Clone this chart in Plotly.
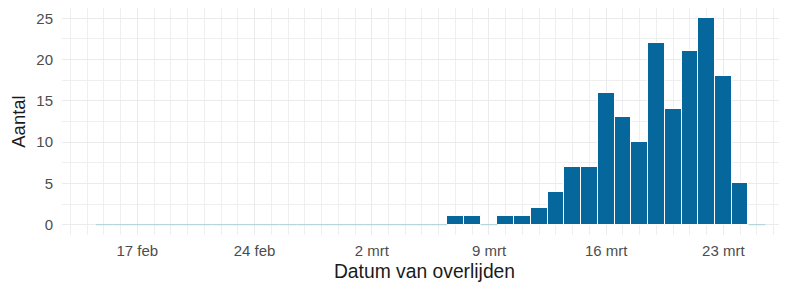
import datetime as dt
import plotly.graph_objects as go

# ---- data ----
start_date = "2020-02-15"
counts = [0] * 21 + [   # 15 feb .. 6 mrt
    1, 1, 0, 1, 1, 2, 4, 7, 7, 16, 13, 10, 22, 14, 21, 25, 18, 5, 0  # 7 mrt .. 25 mrt
]
tick_dates = ["2020-02-17", "2020-02-24", "2020-03-02", "2020-03-09", "2020-03-16", "2020-03-23"]
tick_labels = ["17 feb", "24 feb", "2 mrt", "9 mrt", "16 mrt", "23 mrt"]
y_ticks = [0, 5, 10, 15, 20, 25]

d0 = dt.datetime.fromisoformat(start_date)
dates = [d0 + dt.timedelta(days=i) for i in range(len(counts))]
DAY_MS = 86400000
half = dt.timedelta(hours=12)

# zero-height bars drawn as thin line segments
zx, zy = [], []
for d, c in zip(dates, counts):
    if c == 0:
        zx += [d - half, d + half, None]
        zy += [0, 0, None]

BAR = "#05679b"
GRID = "#ebebeb"
FONT = "Liberation Sans, Arial, sans-serif"

fig = go.Figure()
fig.add_trace(go.Scatter(x=zx, y=zy, mode="lines", line=dict(color="#a6cfd5", width=1),
                         hoverinfo="skip", showlegend=False))
fig.add_trace(go.Bar(x=dates, y=counts, width=DAY_MS, marker=dict(color=BAR, line=dict(color="white", width=1)),
                     showlegend=False))

x_left = d0 - dt.timedelta(days=2.5)
x_right = d0 + dt.timedelta(days=len(counts) - 1) + dt.timedelta(days=1.8)

fig.update_layout(
    width=779, height=275,
    margin=dict(l=54, r=0, t=0, b=48),
    paper_bgcolor="white", plot_bgcolor="white",
    font=dict(family=FONT, size=15, color="#4d4d4d"),
    bargap=0,
    xaxis=dict(
        range=[x_left, x_right], type="date",
        tickmode="array", tickvals=tick_dates, ticktext=tick_labels,
        showgrid=True, gridcolor=GRID, gridwidth=1,
        minor=dict(dtick=DAY_MS, tick0="2020-02-13", showgrid=True, gridcolor="#efefef", gridwidth=1),
        zeroline=False, showline=False, ticks="",
        tickfont=dict(size=15, color="#4d4d4d"),
        ticklabelstandoff=5,
        title=dict(text="Datum van overlijden", font=dict(size=19.3, color="#1a1a1a"), standoff=6),
        automargin=False,
    ),
    yaxis=dict(
        range=[-1.25, 26.25], tickmode="array", tickvals=y_ticks,
        showgrid=True, gridcolor=GRID, gridwidth=1,
        minor=dict(dtick=2.5, tick0=0, showgrid=True, gridcolor="#efefef", gridwidth=1),
        zeroline=False, showline=False, ticks="",
        tickfont=dict(size=15, color="#4d4d4d"),
        ticklabelstandoff=8,
        title=dict(text="Aantal", font=dict(size=18.5, color="#1a1a1a"), standoff=8),
        automargin=False,
    ),
)

fig.write_html("out.html")
